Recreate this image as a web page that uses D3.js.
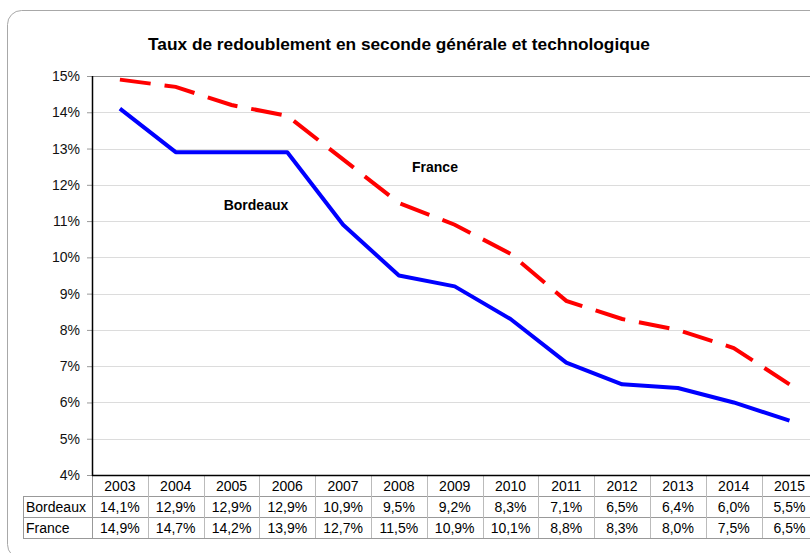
<!DOCTYPE html>
<html>
<head>
<meta charset="utf-8">
<script src="https://cdn.jsdelivr.net/npm/d3@7"></script>
<style>
  body { margin: 0; background: #fff; }
  svg { display: block; font-family: "Liberation Sans", Arial, Helvetica, sans-serif; }
</style>
</head>
<body>
<svg width="810" height="553"></svg>
<script>
// chart values
const years = ["2003", "2004", "2005", "2006", "2007", "2008", "2009", "2010", "2011", "2012", "2013", "2014", "2015"]
const bordeaux = [14.1, 12.9, 12.9, 12.9, 10.9, 9.5, 9.2, 8.3, 7.1, 6.5, 6.4, 6.0, 5.5]
const france = [14.9, 14.7, 14.2, 13.9, 12.7, 11.5, 10.9, 10.1, 8.8, 8.3, 8.0, 7.5, 6.5]
const yTicks = [4, 5, 6, 7, 8, 9, 10, 11, 12, 13, 14, 15]
const seriesNames = ["Bordeaux", "France"]

const svg = d3.select("svg")
const plotLeft = 92, plotTop = 76, plotBottom = 475
const colW = 55.8

const x = d3.scaleBand()
  .domain(years)
  .range([plotLeft, plotLeft + colW * years.length])
const y = d3.scaleLinear()
  .domain([4, 15])
  .range([plotBottom, plotTop])

const fmt = v => d3.format(".1f")(v).replace(".", ",") + "%"

// outer frame
svg.append("rect")
  .attr("x", 7.5).attr("y", 10.5)
  .attr("width", 840).attr("height", 548)
  .attr("rx", 14)
  .attr("fill", "none")
  .attr("stroke", "#a8a8a8")

svg.append("text")
  .attr("x", 399).attr("y", 50)
  .attr("text-anchor", "middle")
  .style("font-weight", "bold")
  .style("font-size", "17.3px")
  .text("Taux de redoublement en seconde générale et technologique")

// grid
svg.append("g").selectAll("line")
  .data(yTicks.slice(1))
  .enter().append("line")
  .attr("x1", plotLeft).attr("x2", 830)
  .attr("y1", d => Math.round(y(d)) + 0.5)
  .attr("y2", d => Math.round(y(d)) + 0.5)
  .attr("stroke", d => d == 15 ? "#8c8c8c" : "#dcdcdc")

// y axis
const yAxis = svg.append("g")
  .attr("transform", `translate(${plotLeft},0)`)
  .call(d3.axisLeft(y).tickValues(yTicks).tickSize(5).tickPadding(7).tickFormat(d => d + "%"))
yAxis.select(".domain").remove()
yAxis.selectAll(".tick line").attr("stroke", "#999")
yAxis.selectAll(".tick text")
  .style("font-size", "14px")
  .style("font-family", "'Liberation Sans', Arial, sans-serif")
  .attr("fill", "#111")

svg.append("line")
  .attr("x1", plotLeft + 0.5).attr("x2", plotLeft + 0.5)
  .attr("y1", plotTop).attr("y2", plotBottom + 1)
  .attr("stroke", "#000").attr("stroke-width", 1.5)

// series lines
const line = d3.line()
  .x((d, i) => x(years[i]) + x.bandwidth() / 2)
  .y(d => y(d))

svg.append("path")
  .datum(france)
  .attr("d", line)
  .attr("fill", "none")
  .attr("stroke", "#ff0000")
  .attr("stroke-width", 4)
  .attr("stroke-dasharray", "31,14")

svg.append("path")
  .datum(bordeaux)
  .attr("d", line)
  .attr("fill", "none")
  .attr("stroke", "#0000ff")
  .attr("stroke-width", 4)
  .attr("stroke-linejoin", "round")

svg.append("text")
  .attr("x", 435).attr("y", 172)
  .attr("text-anchor", "middle")
  .style("font-weight", "bold").style("font-size", "14px")
  .text("France")
svg.append("text")
  .attr("x", 256).attr("y", 210)
  .attr("text-anchor", "middle")
  .style("font-weight", "bold").style("font-size", "14px")
  .text("Bordeaux")

// data table under the axis
const rowH = 21
const tableLeft = 23
const rows = [bordeaux, france]
const table = svg.append("g")

// horizontal rules
table.selectAll(".hrule")
  .data([1, 2, 3])
  .enter().append("line")
  .attr("x1", tableLeft)
  .attr("x2", 830)
  .attr("y1", d => plotBottom + rowH * d + 0.5)
  .attr("y2", d => plotBottom + rowH * d + 0.5)
  .attr("stroke", "#999")

// vertical rules
table.selectAll(".vrule")
  .data(years)
  .enter().append("line")
  .attr("x1", d => Math.round(x(d)) + 0.5)
  .attr("x2", d => Math.round(x(d)) + 0.5)
  .attr("y1", plotBottom)
  .attr("y2", plotBottom + rowH * 3)
  .attr("stroke", d => d == "2003" ? "#999" : "#bbb")
table.append("line")
  .attr("x1", tableLeft + 0.5).attr("x2", tableLeft + 0.5)
  .attr("y1", plotBottom + rowH).attr("y2", plotBottom + rowH * 3)
  .attr("stroke", "#999")

// x axis line on top of the table
svg.append("line")
  .attr("x1", plotLeft).attr("x2", 830)
  .attr("y1", plotBottom + 0.5).attr("y2", plotBottom + 0.5)
  .attr("stroke", "#000").attr("stroke-width", 1.5)

table.selectAll(".year")
  .data(years)
  .enter().append("text")
  .attr("x", d => x(d) + x.bandwidth() / 2)
  .attr("y", plotBottom + 16)
  .attr("text-anchor", "middle")
  .style("font-size", "14px")
  .text(d => d)

rows.forEach((vals, r) => {
  table.append("text")
    .attr("x", tableLeft + 3)
    .attr("y", plotBottom + rowH * (r + 1) + 16)
    .style("font-size", "14px")
    .text(seriesNames[r])
  table.selectAll(".v" + r)
    .data(vals)
    .enter().append("text")
    .attr("x", (d, i) => x(years[i]) + x.bandwidth() / 2)
    .attr("y", plotBottom + rowH * (r + 1) + 16)
    .attr("text-anchor", "middle")
    .style("font-size", "14px")
    .text(d => fmt(d))
})
</script>
</body>
</html>
